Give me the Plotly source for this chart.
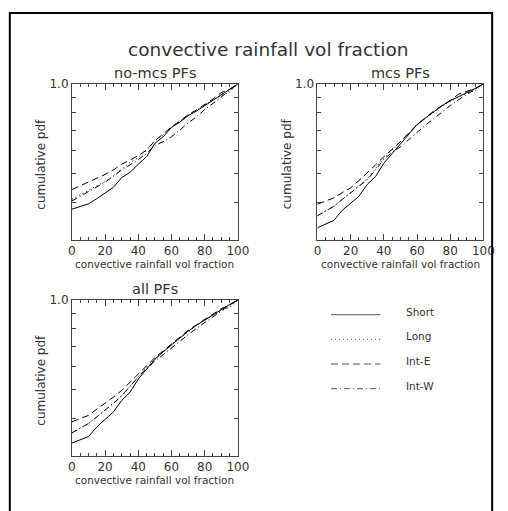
import math
import plotly.graph_objects as go

W, H = 508, 511

# ---------------- data ----------------
pct = [0, 5, 10, 15, 20, 25, 30, 35, 40, 45, 50, 55, 60, 65, 70, 75, 80, 85, 90, 95, 100]
series_names = ["Short", "Long", "Int-E", "Int-W"]
panel_titles = ["no-mcs PFs", "mcs PFs", "all PFs"]

nomcs_short = [0.380, 0.389, 0.396, 0.412, 0.430, 0.450, 0.485, 0.505, 0.538, 0.570, 0.632,
               0.665, 0.715, 0.745, 0.782, 0.810, 0.845, 0.880, 0.920, 0.958, 1.0]
nomcs_long = [0.410, 0.425, 0.440, 0.455, 0.470, 0.492, 0.520, 0.545, 0.565, 0.598, 0.645,
              0.675, 0.715, 0.748, 0.785, 0.815, 0.850, 0.883, 0.915, 0.940, 1.0]
nomcs_inte = [0.442, 0.455, 0.468, 0.482, 0.497, 0.515, 0.538, 0.555, 0.575, 0.600, 0.645,
              0.680, 0.718, 0.750, 0.788, 0.818, 0.852, 0.890, 0.935, 0.960, 1.0]
nomcs_intw = [0.405, 0.420, 0.435, 0.452, 0.468, 0.490, 0.515, 0.535, 0.557, 0.585, 0.622,
              0.640, 0.665, 0.700, 0.740, 0.775, 0.820, 0.860, 0.905, 0.950, 1.0]

mcs_short = [0.329, 0.339, 0.349, 0.377, 0.398, 0.420, 0.460, 0.489, 0.542, 0.585, 0.631,
             0.680, 0.730, 0.768, 0.808, 0.845, 0.878, 0.905, 0.936, 0.965, 1.0]
mcs_long = [0.361, 0.375, 0.389, 0.410, 0.431, 0.455, 0.480, 0.520, 0.563, 0.600, 0.640,
            0.685, 0.728, 0.765, 0.805, 0.842, 0.875, 0.905, 0.930, 0.950, 1.0]
mcs_inte = [0.395, 0.405, 0.415, 0.432, 0.448, 0.474, 0.502, 0.535, 0.570, 0.605, 0.640,
            0.685, 0.730, 0.770, 0.810, 0.845, 0.880, 0.924, 0.945, 0.965, 1.0]
mcs_intw = [0.361, 0.375, 0.389, 0.410, 0.431, 0.453, 0.477, 0.515, 0.558, 0.590, 0.615,
            0.650, 0.690, 0.727, 0.764, 0.805, 0.846, 0.885, 0.924, 0.960, 1.0]

all_short = [0.331, 0.340, 0.348, 0.375, 0.398, 0.421, 0.460, 0.490, 0.543, 0.585, 0.632,
             0.670, 0.708, 0.748, 0.785, 0.822, 0.857, 0.893, 0.930, 0.965, 1.0]
all_long = [0.358, 0.371, 0.385, 0.405, 0.426, 0.450, 0.478, 0.515, 0.557, 0.595, 0.635,
            0.672, 0.708, 0.745, 0.782, 0.820, 0.855, 0.888, 0.920, 0.945, 1.0]
all_inte = [0.390, 0.400, 0.410, 0.430, 0.449, 0.472, 0.497, 0.530, 0.564, 0.600, 0.640,
            0.675, 0.712, 0.750, 0.790, 0.825, 0.862, 0.900, 0.935, 0.960, 1.0]
all_intw = [0.358, 0.371, 0.385, 0.405, 0.426, 0.450, 0.476, 0.512, 0.552, 0.588, 0.624,
            0.655, 0.691, 0.728, 0.765, 0.802, 0.840, 0.880, 0.922, 0.960, 1.0]

y_ticks = [0.3, 0.4, 0.5, 0.6, 0.7, 0.8, 0.9, 1.0]
y_ticktext = ["", "", "", "", "", "", "", "1.0"]

panels = [
    [nomcs_short, nomcs_long, nomcs_inte, nomcs_intw],
    [mcs_short, mcs_long, mcs_inte, mcs_intw],
    [all_short, all_long, all_inte, all_intw],
]

# ---------------- styles / layout ----------------
dashes = ["solid", "1px,3px", "7px,4px", "6px,3px,1px,3px"]
FONT = "DejaVu Sans"
TXT = "#333"
AX = "#444"

def px(x):
    return x / W

def py(y):
    return 1 - y / H

# pixel boxes (left, right, top, bottom)
boxes = [(70, 241, 78, 236), (323, 494, 78, 236), (70, 241, 297, 455)]

fig = go.Figure()
layout = dict(
    width=W, height=H, autosize=False,
    margin=dict(l=0, r=0, t=0, b=0),
    paper_bgcolor="white", plot_bgcolor="white",
    showlegend=False,
    font=dict(family=FONT, color=TXT),
)

annotations = []
shapes = []

for i, (data, title, box) in enumerate(zip(panels, panel_titles, boxes)):
    suf = "" if i == 0 else str(i + 1)
    for name, vals, d in zip(series_names, data, dashes):
        fig.add_trace(go.Scatter(
            x=pct, y=vals, mode="lines", name=name,
            line=dict(color="black", width=1, dash=d),
            xaxis="x" + suf, yaxis="y" + suf,
        ))
    l, r, t, b = box
    layout["xaxis" + suf] = dict(
        domain=[px(l), px(r)], anchor="y" + suf,
        range=[0, 100], tickmode="linear", tick0=0, dtick=20,
        ticks="inside", ticklen=6, tickcolor=AX, mirror="ticks",
        showline=True, linecolor=AX, linewidth=1,
        showgrid=False, zeroline=False,
        tickfont=dict(size=12, family=FONT, color=TXT),
        minor=dict(dtick=5, tick0=0, ticks="inside", ticklen=3, tickcolor=AX, showgrid=False),
    )
    layout["yaxis" + suf] = dict(
        domain=[py(b), py(t)], anchor="x" + suf,
        type="log", range=[math.log10(0.3), 0],
        tickmode="array", tickvals=y_ticks, ticktext=y_ticktext,
        ticks="inside", ticklen=4, tickcolor=AX, mirror="ticks",
        showline=True, linecolor=AX, linewidth=1,
        showgrid=False, zeroline=False,
        tickfont=dict(size=12, family=FONT, color=TXT),
    )
    cx = (l + r) / 2
    annotations.append(dict(text=title, x=px(cx), y=py(t - 11), xref="paper", yref="paper",
                            showarrow=False, xanchor="center", yanchor="middle",
                            font=dict(size=14.5, family=FONT, color=TXT)))
    annotations.append(dict(text="convective rainfall vol fraction", x=px(cx), y=py(b + 25),
                            xref="paper", yref="paper", showarrow=False,
                            xanchor="center", yanchor="middle",
                            font=dict(size=10.5, family=FONT, color=TXT)))
    annotations.append(dict(text="cumulative pdf", x=px(l - 32), y=py((t + b) / 2 + 2),
                            xref="paper", yref="paper", showarrow=False, textangle=-90,
                            xanchor="center", yanchor="middle",
                            font=dict(size=12, family=FONT, color=TXT)))

# main title
annotations.append(dict(text="convective rainfall vol fraction", x=px(273), y=py(43),
                        xref="paper", yref="paper", showarrow=False,
                        xanchor="center", yanchor="middle",
                        font=dict(size=18.5, family=FONT, color=TXT)))

# legend drawn in the empty lower-right area
leg_y = [312, 337, 362, 387]
for name, d, yy in zip(series_names, dashes, leg_y):
    shapes.append(dict(type="line", xref="paper", yref="paper",
                       x0=px(337), x1=px(388), y0=py(yy), y1=py(yy),
                       line=dict(color="#555", width=1, dash=d)))
    annotations.append(dict(text=name, x=px(412), y=py(yy - 3), xref="paper", yref="paper",
                            showarrow=False, xanchor="left", yanchor="middle",
                            font=dict(size=10.5, family=FONT, color=TXT)))

# outer frame
shapes.append(dict(type="rect", xref="paper", yref="paper",
                   x0=px(6), x1=px(503), y0=-0.05, y1=py(6),
                   line=dict(color="black", width=2), fillcolor="rgba(0,0,0,0)"))

layout["annotations"] = annotations
layout["shapes"] = shapes
fig.update_layout(**layout)
fig.write_html("out.html")
